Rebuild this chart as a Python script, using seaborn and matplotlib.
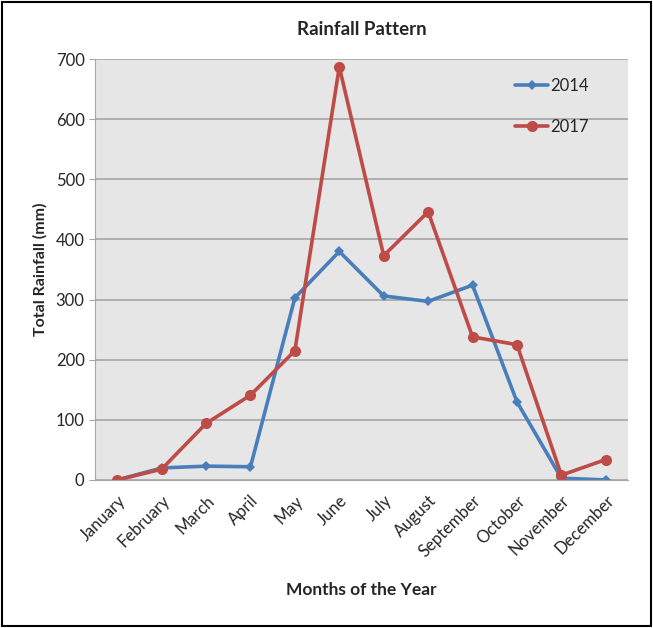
import pandas as pd
import matplotlib
matplotlib.use('Agg')
import matplotlib.pyplot as plt
import seaborn as sns
from matplotlib.patches import Rectangle

months = ['January', 'February', 'March', 'April', 'May', 'June', 'July',
          'August', 'September', 'October', 'November', 'December']
rain_2014 = [0, 20, 23, 22, 303, 380, 306, 297, 324, 130, 3, 0]
rain_2017 = [0, 18, 94, 141, 215, 687, 373, 446, 238, 225, 8, 34]

df = pd.DataFrame({'Month': months * 2,
                   'Rainfall': rain_2014 + rain_2017,
                   'Year': ['2014'] * 12 + ['2017'] * 12})

sns.set_style('white')
plt.rcParams['font.family'] = ['Lato', 'DejaVu Sans']

fig = plt.figure(figsize=(6.53, 6.28), dpi=100)
ax = fig.add_axes([0.1455, 0.2357, 0.8162, 0.6703])
ax.set_facecolor('#E6E6E6')

sns.lineplot(data=df, x='Month', y='Rainfall', hue='Year', style='Year',
             palette={'2014': '#4A7EBB', '2017': '#BE4B48'},
             markers={'2014': 'D', '2017': 'o'}, dashes=False,
             linewidth=2.6, markeredgewidth=0, sort=False, ax=ax)
for line, ms in zip(ax.lines, [5, 8]):
    line.set_markersize(ms)

ax.set_xlim(-0.5, 11.5)
ax.set_ylim(0, 700)
ax.set_yticks(range(0, 701, 100))
ax.yaxis.grid(True, color='#A6A6A6', linewidth=1.2)
ax.set_axisbelow(True)
for s in ['top', 'right']:
    ax.spines[s].set_visible(False)
ax.spines['left'].set_color('#A6A6A6')
ax.spines['bottom'].set_color('#A6A6A6')
ax.tick_params(axis='y', length=4, color='#A6A6A6', labelsize=12, direction='out', left=True)
ax.tick_params(axis='x', length=0, labelsize=12, pad=9)
plt.setp(ax.get_xticklabels(), rotation=45, ha='right', rotation_mode='anchor')

ax.set_title('Rainfall Pattern', fontsize=13.5, fontweight='bold', pad=17)
ax.set_xlabel('Months of the Year', fontsize=12.5, fontweight='bold', labelpad=16)
ax.set_ylabel('Total Rainfall (mm)', fontsize=11.5, fontweight='bold', labelpad=6)

leg = ax.legend(loc='upper left', bbox_to_anchor=(0.76, 0.99), frameon=False,
                fontsize=12, labelspacing=1.5, handlelength=2.0, handletextpad=0.1)
for h, ms in zip(leg.legend_handles, [5, 8]):
    h.set_markersize(ms)

fig.patches.append(Rectangle((0.003, 0.003), 0.994, 0.994, transform=fig.transFigure,
                             fill=False, edgecolor='black', linewidth=1.5))

fig.savefig('out.png', dpi=100)
